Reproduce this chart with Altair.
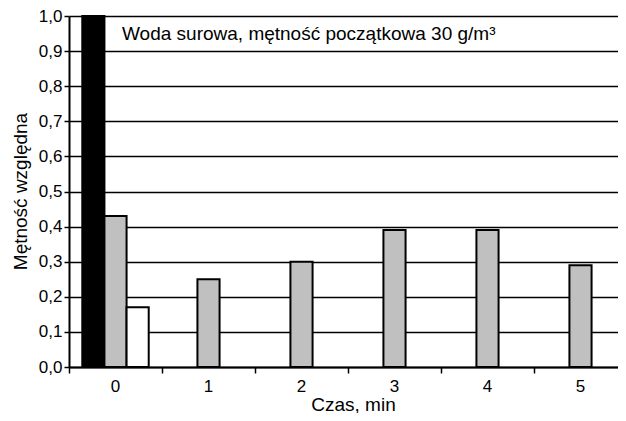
import altair as alt
import pandas as pd

categories = ["0", "1", "2", "3", "4", "5"]
series_names = ["A", "B", "C"]
series_black = [1.0, None, None, None, None, None]
series_dotted = [0.43, 0.25, 0.30, 0.39, 0.39, 0.29]
series_white = [0.17, None, None, None, None, None]
series_colors = ["#000000", "#c0c0c0", "#ffffff"]
y_ticks = [0.0, 0.1, 0.2, 0.3, 0.4, 0.5, 0.6, 0.7, 0.8, 0.9, 1.0]
annotation_text = ["Woda surowa, mętność początkowa 30 g/m³"]
annotation_y = [0.95]

rows = []
for name, vals in zip(series_names, [series_black, series_dotted, series_white]):
    for c, v in zip(categories, vals):
        if v is not None:
            rows.append({"czas": c, "seria": name, "v": v})
df = pd.DataFrame(rows)
ann = pd.DataFrame({"t": annotation_text, "y": annotation_y})

yscale = alt.Scale(domain=[0, 1], nice=False, zero=True)


def y_axis():
    return alt.Axis(
        values=y_ticks, tickCount=11, labelOverlap=False,
        labelExpr="replace(format(datum.value, '.1f'), '.', ',')",
        grid=True, gridColor="black", gridWidth=1.5, gridOpacity=1,
        domainColor="black", domainWidth=2, tickColor="black", tickSize=5,
        tickWidth=1.5, labelFontSize=17, labelColor="black", labelPadding=2,
        title="Mętność względna", titleFontSize=19, titleFontWeight="normal",
        titleColor="black", titleX=-49, titleY=175, titleAngle=270,
        titleBaseline="middle", titleAlign="center",
    )


bars = alt.Chart(df).mark_bar(stroke="black", strokeWidth=2).encode(
    x=alt.X(
        "czas:N",
        sort=categories,
        scale=alt.Scale(domain=categories, range=[0, 558], paddingInner=0, paddingOuter=0),
        axis=alt.Axis(
            title="Czas, min", labelAngle=0, bandPosition=0, grid=False,
            domainColor="black", domainWidth=2, tickColor="black", tickWidth=1.5,
            tickSize=6, labelFontSize=17, labelColor="black", labelPadding=5,
            titleFontSize=19, titleFontWeight="normal", titleColor="black",
            titleX=284, titleY=37, titleBaseline="middle", titleAlign="center",
        ),
    ),
    xOffset=alt.XOffset(
        "seria:N",
        scale=alt.Scale(domain=series_names, paddingInner=0, paddingOuter=0.6),
    ),
    y=alt.Y("v:Q", scale=yscale, axis=y_axis()),
    color=alt.Color(
        "seria:N",
        scale=alt.Scale(domain=series_names, range=series_colors),
        legend=None,
    ),
)

text = alt.Chart(ann).mark_text(
    align="left", baseline="middle", fontSize=19, color="black"
).encode(
    x=alt.value(53),
    y=alt.Y("y:Q", scale=yscale, axis=y_axis()),
    text="t:N",
)

chart = alt.layer(bars, text).properties(
    width=549,
    height=351,
    autosize=alt.AutoSizeParams(type="none"),
    padding={"left": 61, "top": 8, "right": 0, "bottom": 46},
    background="white",
).configure(font="Liberation Sans").configure_view(stroke=None)

chart.save("out.html", embed_options={"renderer": "svg", "actions": False})
